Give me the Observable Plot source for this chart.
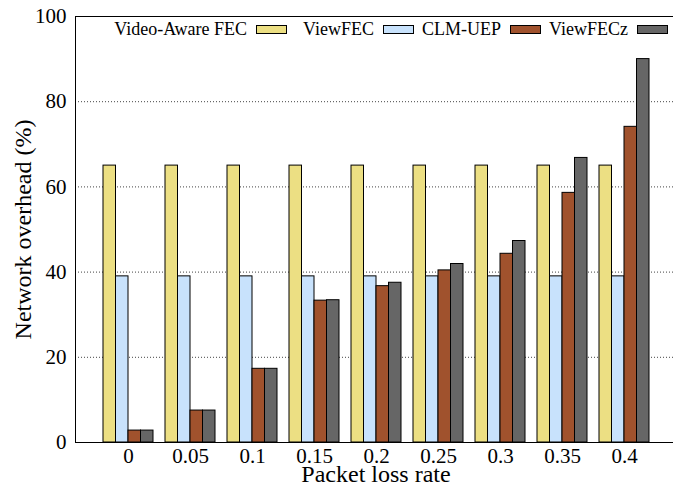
<!DOCTYPE html>
<html>
<head>
<meta charset="utf-8">
<script src="https://cdn.jsdelivr.net/npm/d3@7"></script>
<script src="https://cdn.jsdelivr.net/npm/@observablehq/plot@0.6"></script>
<style>
  html, body { margin: 0; padding: 0; background: white; overflow: hidden; }
  #wrap { position: relative; width: 673px; height: 485px; overflow: hidden; background: white; }
  #wrap svg { position: absolute; left: 0; top: 0; max-width: none !important; width: 680px !important; height: 485px !important; }
  [aria-label="y-axis label"], [aria-label="x-axis label"] { font-size: 24px !important; }
  #legend { position: absolute; left: 0; top: 20px; font-family: "Liberation Serif", serif; font-size: 18px; line-height: 18px; color: black; }
  .item { position: absolute; top: 0; width: 127px; display: flex; justify-content: flex-end; align-items: center; white-space: nowrap; }
  .item span { flex-shrink: 0; }
  .sw { width: 29px; height: 7px; border: 1px solid black; margin-left: 9px; flex-shrink: 0; }
</style>
</head>
<body>
<div id="wrap"><div id="legend"></div></div>
<script>
// Data
const lossRates = ["0", "0.05", "0.1", "0.15", "0.2", "0.25", "0.3", "0.35", "0.4"];
const seriesNames = ["Video-Aware FEC", "ViewFEC", "CLM-UEP", "ViewFECz"];
const videoAwareFEC = [65, 65, 65, 65, 65, 65, 65, 65, 65];
const viewFEC = [39, 39, 39, 39, 39, 39, 39, 39, 39];
const clmUEP = [2.8, 7.5, 17.3, 33.3, 36.7, 40.4, 44.3, 58.6, 74.1];
const viewFECz = [2.8, 7.5, 17.3, 33.4, 37.5, 41.9, 47.3, 66.8, 90.0];
const yTicks = [0, 20, 40, 60, 80, 100];
const gridTicks = [20, 40, 60, 80];
const colors = ["#ecdf83", "#c8e2fc", "#a0522d", "#666666"];

const seriesValues = [videoAwareFEC, viewFEC, clmUEP, viewFECz];
const tables = seriesValues.map((vals, j) =>
  lossRates.map((loss, i) => ({loss, value: vals[i], series: seriesNames[j]}))
);

function makeChart(bw) {
  return Plot.plot({
    width: 680,
    height: 485,
    marginLeft: 75,
    marginRight: 4,
    marginTop: 16,
    marginBottom: 43,
    style: {fontFamily: "Liberation Serif, serif", fontSize: "21px", background: "white", color: "black", overflow: "visible"},
    x: {domain: lossRates, paddingInner: 0.2, paddingOuter: 0.38, label: null},
    y: {domain: [0, 100], label: null},
    marks: [
      Plot.gridY(gridTicks, {stroke: "#444", strokeOpacity: 1, strokeDasharray: "1,2"}),
      ...tables.map((t, j) => Plot.barY(t, {
        x: "loss", y: "value", fill: colors[j], stroke: "black", strokeWidth: 1,
        insetLeft: bw * j, insetRight: bw * (3 - j)
      })),
      Plot.frame({stroke: "black", strokeWidth: 1}),
      Plot.axisY({ticks: yTicks, tickSize: 0, tickPadding: 9, label: "Network overhead (%)", labelAnchor: "center", labelArrow: "none", labelOffset: 62, fontSize: 21}),
      Plot.axisX({tickSize: 0, tickPadding: 6, label: "Packet loss rate", labelAnchor: "center", labelArrow: "none", labelOffset: 39, fontSize: 21})
    ]
  });
}

const probe = makeChart(0);
const bw = probe.scale("x").bandwidth / 4;
const chart = makeChart(bw);
document.getElementById("wrap").insertBefore(chart, document.getElementById("legend"));

// Legend (gnuplot-style key: right-justified text followed by a swatch)
const legend = document.getElementById("legend");
const itemRight = [287, 414, 541, 668];
seriesNames.forEach((name, j) => {
  const it = document.createElement("div");
  it.className = "item";
  it.style.left = (itemRight[j] - 127) + "px";
  const s = document.createElement("span");
  s.textContent = name;
  const sw = document.createElement("div");
  sw.className = "sw";
  sw.style.background = colors[j];
  it.appendChild(s);
  it.appendChild(sw);
  legend.appendChild(it);
});
</script>
</body>
</html>
